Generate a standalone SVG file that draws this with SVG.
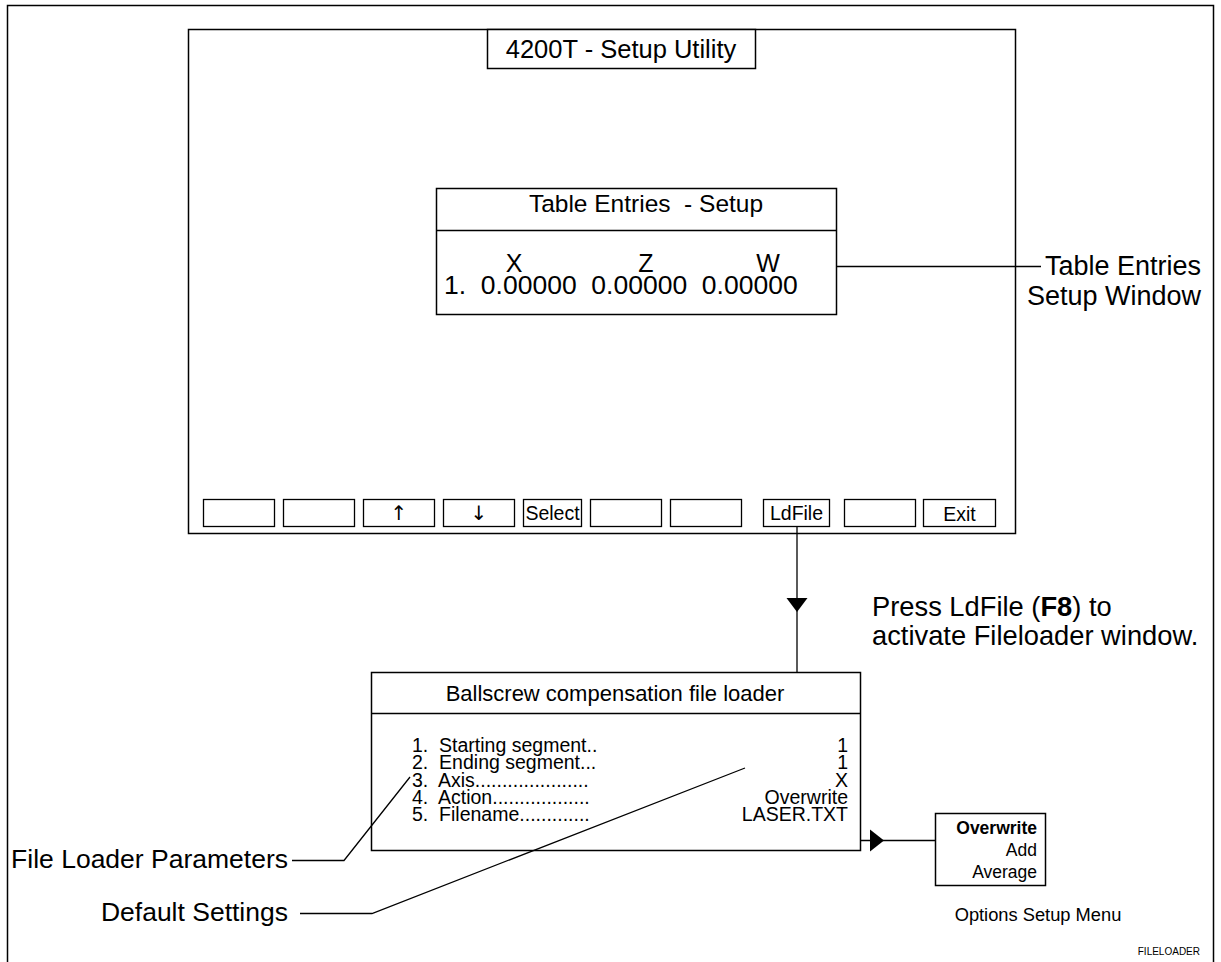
<svg xmlns="http://www.w3.org/2000/svg" width="1221" height="962" viewBox="0 0 1221 962">
  <style>
    text { font-family: "Liberation Sans", Arial, sans-serif; fill: #000; }
    .box { fill: #fff; stroke: #000; stroke-width: 1.5; }
    .key { fill: #fff; stroke: #000; stroke-width: 1.3; }
    .ln { fill: none; stroke: #000; stroke-width: 1.3; }
    .big { font-size: 27px; }
    .keyt { font-size: 19.5px; text-anchor: middle; }
    .arr { font-family: "DejaVu Sans", sans-serif; font-size: 20px; text-anchor: middle; fill: #000; }
    .row { font-size: 19.5px; }
    .opt { font-size: 17.5px; text-anchor: end; }
    .c { text-anchor: middle; }
    .r { text-anchor: end; }
  </style>

  <rect x="0" y="0" width="1221" height="962" fill="#fff"/>
  <!-- page frame -->
  <rect x="7.5" y="5.5" width="1206" height="980" fill="none" stroke="#000" stroke-width="1.5"/>

  <!-- setup utility screen -->
  <g id="screen">
    <rect class="box" x="188.5" y="29.5" width="827" height="504"/>
    <rect class="box" x="487.5" y="29.5" width="268" height="39"/>
    <text class="c" x="621" y="58" font-size="25.5">4200T - Setup Utility</text>
  </g>

  <!-- table entries window -->
  <g id="table-entries">
    <rect class="box" x="436.5" y="188.5" width="400" height="126"/>
    <line class="ln" x1="436.5" y1="230.5" x2="836.5" y2="230.5"/>
    <text class="c" x="646" y="212" font-size="24.5" xml:space="preserve">Table Entries  - Setup</text>
    <text class="c" x="514" y="272" font-size="25">X</text>
    <text class="c" x="646" y="272" font-size="25">Z</text>
    <text class="c" x="768" y="272" font-size="25">W</text>
    <text x="444" y="294" font-size="26.5" xml:space="preserve">1.  0.00000  0.00000  0.00000</text>
  </g>

  <!-- soft keys -->
  <g id="softkeys">
    <rect class="key" x="203.5" y="499.5" width="71" height="27"/>
    <rect class="key" x="283.5" y="499.5" width="71" height="27"/>
    <rect class="key" x="363.5" y="499.5" width="71" height="27"/>
    <text class="arr" x="399" y="520">↑</text>
    <rect class="key" x="443.5" y="499.5" width="71" height="27"/>
    <text class="arr" x="479" y="520">↓</text>
    <rect class="key" x="523.5" y="499.5" width="58" height="27"/>
    <text class="keyt" x="552.5" y="520">Select</text>
    <rect class="key" x="590.5" y="499.5" width="71" height="27"/>
    <rect class="key" x="670.5" y="499.5" width="71" height="27"/>
    <rect class="key" x="763.5" y="499.5" width="66" height="27"/>
    <text class="keyt" x="796.5" y="520">LdFile</text>
    <rect class="key" x="844.5" y="499.5" width="71" height="27"/>
    <rect class="key" x="923.5" y="499.5" width="72" height="27"/>
    <text class="keyt" x="959.5" y="521">Exit</text>
  </g>

  <!-- file loader window -->
  <g id="file-loader">
    <rect class="box" x="371.5" y="672.5" width="489" height="178"/>
    <line class="ln" x1="371.5" y1="713.5" x2="860.5" y2="713.5"/>
    <text class="c" x="615" y="701" font-size="22">Ballscrew compensation file loader</text>
    <text class="row" x="412" y="752" xml:space="preserve">1.  Starting segment..</text>
    <text class="row" x="412" y="769" xml:space="preserve">2.  Ending segment...</text>
    <text class="row" x="412" y="787" xml:space="preserve">3.  Axis.....................</text>
    <text class="row" x="412" y="804" xml:space="preserve">4.  Action..................</text>
    <text class="row" x="412" y="821" xml:space="preserve">5.  Filename.............</text>
    <text class="row r" x="848" y="752">1</text>
    <text class="row r" x="848" y="769">1</text>
    <text class="row r" x="848" y="787">X</text>
    <text class="row r" x="848" y="804">Overwrite</text>
    <text class="row r" x="848" y="821">LASER.TXT</text>
  </g>

  <!-- options menu -->
  <g id="options-menu">
    <rect class="box" x="935.5" y="813.5" width="110" height="72"/>
    <text class="opt" x="1037" y="834" font-weight="bold" font-size="16.5">Overwrite</text>
    <text class="opt" x="1037" y="856">Add</text>
    <text class="opt" x="1037" y="878">Average</text>
    <text class="c" x="1038" y="921" font-size="18.3">Options Setup Menu</text>
  </g>

  <!-- callout labels -->
  <g id="labels">
    <text class="big r" x="1201" y="275">Table Entries</text>
    <text class="big r" x="1201" y="305">Setup Window</text>
    <text x="872" y="616" font-size="27.3">Press LdFile (<tspan font-weight="bold">F8</tspan>) to</text>
    <text x="872" y="645" font-size="27.3">activate Fileloader window.</text>
    <text class="r" x="288" y="868" font-size="26.5">File Loader Parameters</text>
    <text class="r" x="288" y="921" font-size="26.5">Default Settings</text>
    <text x="1200" y="955" font-size="10" text-anchor="end">FILELOADER</text>
  </g>

  <!-- connectors -->
  <g id="connectors">
    <line class="ln" x1="836.5" y1="266.5" x2="1041" y2="266.5"/>
    <line class="ln" x1="797" y1="526.5" x2="797" y2="672.5"/>
    <path d="M786.5,598 L807.5,598 L797,612 Z" fill="#000"/>
    <line class="ln" x1="860.5" y1="840.5" x2="935.5" y2="840.5"/>
    <path d="M870,829.5 L884,840.5 L870,851.5 Z" fill="#000"/>
    <polyline class="ln" points="292,860.5 344,860.5 410,777"/>
    <polyline class="ln" points="300,913.5 372,913.5 745,768"/>
  </g>
</svg>
